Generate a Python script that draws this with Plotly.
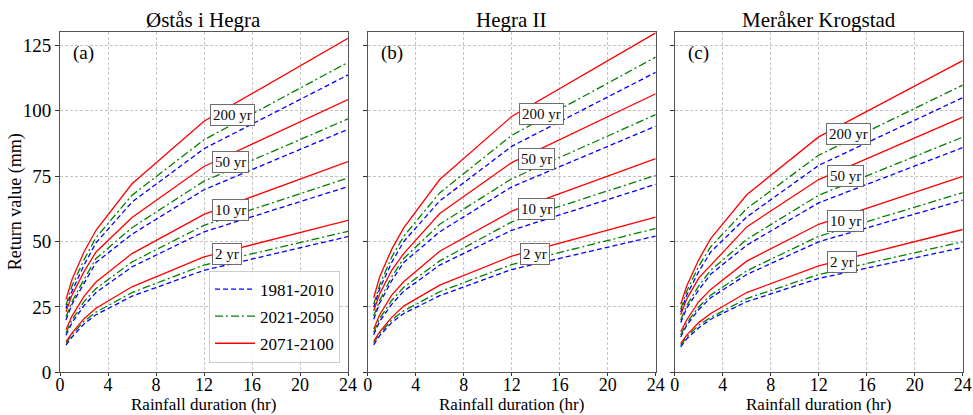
import plotly.graph_objects as go
from plotly.subplots import make_subplots

# ---------------- data ----------------
durations = [0.5, 1, 2, 3, 6, 12, 24]
stations = ["Østås i Hegra", "Hegra II", "Meråker Krogstad"]
panel_letters = ["(a)", "(b)", "(c)"]
periods = ["1981-2010", "2021-2050", "2071-2100"]
return_periods = ["200 yr", "50 yr", "10 yr", "2 yr"]

# Østås i Hegra
a_1981 = {
    "200 yr": [24.4, 31, 41, 49.5, 65.1, 85.5, 113.7],
    "50 yr": [20.0, 26, 34, 42, 52.8, 69.8, 92.9],
    "10 yr": [14.2, 19, 25.5, 30.5, 40.3, 53.7, 71.0],
    "2 yr": [10.4, 13.5, 18.5, 22, 29.1, 39.0, 51.9],
}
a_2021 = {
    "200 yr": [25.7, 33, 43, 51.5, 67.7, 88.9, 118.5],
    "50 yr": [21.2, 27, 35.5, 43.5, 55.3, 73.1, 96.9],
    "10 yr": [15.1, 20, 27, 32, 42.2, 56.2, 74.3],
    "2 yr": [11.1, 14.5, 19.5, 23, 30.5, 41.0, 53.9],
}
a_2071 = {
    "200 yr": [27.9, 35.5, 46, 54.3, 72.1, 96.0, 127.7],
    "50 yr": [23.1, 29.5, 38.5, 46, 59.2, 78.7, 104.3],
    "10 yr": [16.4, 21.5, 29, 34.5, 45.4, 60.4, 80.6],
    "2 yr": [11.7, 15, 20.5, 24.5, 32.7, 44.1, 58.1],
}
# Hegra II
b_1981 = {
    "200 yr": [24.8, 32, 42, 50, 65.5, 86.4, 114.7],
    "50 yr": [20.3, 26.5, 35, 42, 53.7, 70.9, 94.1],
    "10 yr": [14.4, 19.5, 26, 31, 41.0, 54.3, 71.9],
    "2 yr": [10.5, 14, 19, 22.5, 29.3, 39.3, 52.1],
}
b_2021 = {
    "200 yr": [26, 33.5, 44, 52, 68.6, 90.6, 120.5],
    "50 yr": [21.5, 27.5, 36.5, 43.5, 56.6, 74.0, 98.5],
    "10 yr": [15.3, 20.5, 27.5, 32.5, 42.6, 57.5, 75.3],
    "2 yr": [11.2, 14.8, 20, 23.5, 30.8, 41.2, 55.0],
}
b_2071 = {
    "200 yr": [28.5, 36.5, 47, 55.2, 73.7, 97.8, 129.8],
    "50 yr": [23.5, 30, 39, 45.4, 60.7, 80.2, 106.5],
    "10 yr": [16.6, 22, 29.5, 34.6, 46.3, 61.6, 81.7],
    "2 yr": [11.8, 15.5, 21, 25.3, 33.3, 44.4, 59.3],
}
# Meråker Krogstad
c_1981 = {
    "200 yr": [23, 29.5, 38.5, 46, 59.4, 79.1, 105.0],
    "50 yr": [19, 24.5, 31.5, 37.5, 48.6, 64.8, 85.9],
    "10 yr": [13.5, 18, 24, 28.5, 37.4, 49.9, 65.8],
    "2 yr": [9.7, 12.8, 17, 20.3, 27.0, 35.9, 47.7],
}
c_2021 = {
    "200 yr": [24, 31, 40.5, 48, 62.6, 83.0, 109.8],
    "50 yr": [20, 25.5, 33, 39, 50.8, 67.7, 89.9],
    "10 yr": [14.3, 18.8, 25, 29.5, 38.8, 52.0, 68.7],
    "2 yr": [10.3, 13.5, 18, 21, 28.2, 37.4, 49.9],
}
c_2071 = {
    "200 yr": [26, 33, 43, 51.1, 67.9, 90.0, 119.2],
    "50 yr": [22, 28, 36, 41.0, 55.6, 73.7, 97.6],
    "10 yr": [15.5, 20, 27, 31.7, 42.5, 56.6, 74.9],
    "2 yr": [11, 14.2, 19, 22.5, 30.5, 40.7, 54.6],
}

# label positions (duration, value) per panel
label_pos = [
    {"200 yr": (14.4, 98.2), "50 yr": (14.2, 80.4), "10 yr": (14.2, 62.2), "2 yr": (13.9, 45.4)},
    {"200 yr": (14.5, 98.9), "50 yr": (14.1, 81.4), "10 yr": (14.1, 62.6), "2 yr": (13.9, 45.4)},
    {"200 yr": (14.5, 91.2), "50 yr": (14.2, 74.9), "10 yr": (14.2, 57.7), "2 yr": (13.9, 42.0)},
]

x_ticks = [0, 4, 8, 12, 16, 20, 24]
y_ticks = [0, 25, 50, 75, 100, 125]

# ---------------- styling ----------------
FONT = "Liberation Serif, Times New Roman, serif"
styles = {
    "1981-2010": dict(color="#0000ff", dash="5px,3px"),
    "2021-2050": dict(color="#007f00", dash="8px,3px,2px,3px"),
    "2071-2100": dict(color="#ff0000", dash="solid"),
}

W, H = 973, 415
x_doms = [(60 / W, 348 / W), (367.7 / W, 655.7 / W), (674.7 / W, 962.7 / W)]
y_dom = (1 - 372.3 / H, 1 - 32.3 / H)

fig = make_subplots(rows=1, cols=3)

panel_data = [
    {"1981-2010": a_1981, "2021-2050": a_2021, "2071-2100": a_2071},
    {"1981-2010": b_1981, "2021-2050": b_2021, "2071-2100": b_2071},
    {"1981-2010": c_1981, "2021-2050": c_2021, "2071-2100": c_2071},
]

for i, pdata in enumerate(panel_data):
    for per in periods:
        for k, rp in enumerate(return_periods):
            st = styles[per]
            fig.add_trace(
                go.Scatter(
                    x=durations, y=pdata[per][rp], mode="lines",
                    line=dict(color=st["color"], dash=st["dash"], width=1.3),
                    name=per, legendgroup=per,
                    showlegend=(i == 0 and k == 0),
                ),
                row=1, col=i + 1,
            )

# invisible helper traces so the tick-label axes get drawn
for i in range(3):
    fig.add_trace(go.Scatter(
        x=x_ticks, y=[None] * len(x_ticks), mode="lines",
        xaxis=f"x{i + 4}", yaxis="y" if i == 0 else f"y{i + 1}",
        showlegend=False, hoverinfo="skip", line=dict(width=0),
    ))

annotations = []
for i in range(3):
    xr = "x" if i == 0 else f"x{i + 1}"
    yr = "y" if i == 0 else f"y{i + 1}"
    for rp in return_periods:
        lx, ly = label_pos[i][rp]
        annotations.append(dict(
            x=lx, y=ly, xref=xr, yref=yr, text=rp, showarrow=False,
            font=dict(family=FONT, size=15, color="black"),
            bgcolor="white", bordercolor="#666666", borderwidth=1, borderpad=2,
            opacity=0.95,
        ))
    annotations.append(dict(
        x=0.95, y=122, xref=xr, yref=yr, text=panel_letters[i], showarrow=False,
        xanchor="left", yanchor="middle",
        font=dict(family=FONT, size=19, color="black"),
    ))
    # panel title
    annotations.append(dict(
        x=(x_doms[i][0] + x_doms[i][1]) / 2, y=1 - 20.5 / H, xref="paper", yref="paper",
        text=stations[i], showarrow=False, xanchor="center", yanchor="middle",
        font=dict(family=FONT, size=21, color="black"),
    ))
    # x axis title
    annotations.append(dict(
        x=(x_doms[i][0] + x_doms[i][1]) / 2, y=0, xref="paper", yref="paper",
        text="Rainfall duration (hr)", showarrow=False, xanchor="center", yanchor="bottom",
        font=dict(family=FONT, size=17, color="black"), borderpad=0,
    ))
annotations.append(dict(
    x=15 / W, y=(y_dom[0] + y_dom[1]) / 2, xref="paper", yref="paper",
    text="Return value (mm)", showarrow=False, textangle=-90,
    xanchor="center", yanchor="middle",
    font=dict(family=FONT, size=18, color="black"),
))

for i in range(3):
    fig.update_xaxes(
        domain=x_doms[i], range=[0, 24], tickvals=x_ticks, automargin=False,
        ticks="outside", ticklen=3, tickcolor="#333", showticklabels=False,
        showline=True, linecolor="#555", linewidth=1, mirror=True,
        showgrid=True, gridcolor="#c4c4c4", griddash="3px,2px", gridwidth=0.8,
        zeroline=False,
        row=1, col=i + 1,
    )
    fig.update_yaxes(
        domain=y_dom, range=[0, 130], tickvals=y_ticks, automargin=False,
        showticklabels=(i == 0),
        ticks="outside", ticklen=4, tickcolor="#333",
        showline=True, linecolor="#555", linewidth=1, mirror=True,
        showgrid=True, gridcolor="#c4c4c4", griddash="3px,2px", gridwidth=0.8,
        zeroline=False, tickfont=dict(family=FONT, size=19, color="black"),
        row=1, col=i + 1,
    )

# tick-label axes overlaying each panel's x axis (labels sit close to the frame)
label_axes = {}
for i in range(3):
    base = "x" if i == 0 else f"x{i + 1}"
    anchor = "y" if i == 0 else f"y{i + 1}"
    label_axes[f"xaxis{i + 4}"] = dict(
        overlaying=base, anchor=anchor, side="bottom", domain=x_doms[i],
        range=[0, 24], tickvals=x_ticks, ticks="", showgrid=False, showline=False,
        zeroline=False, automargin=False,
        tickfont=dict(family=FONT, size=18, color="black"),
    )

fig.update_layout(
    width=W, height=H,
    margin=dict(l=0, r=0, t=0, b=0, autoexpand=False),
    paper_bgcolor="white", plot_bgcolor="white",
    annotations=annotations,
    legend=dict(
        x=340 / W, y=1 - 362.5 / H, xanchor="right", yanchor="bottom",
        bgcolor="rgba(255,255,255,0.85)", bordercolor="#cccccc", borderwidth=1,
        font=dict(family=FONT, size=17, color="black"),
        itemwidth=40, tracegroupgap=2,
    ),
    **label_axes,
)

fig.write_html("out.html")
